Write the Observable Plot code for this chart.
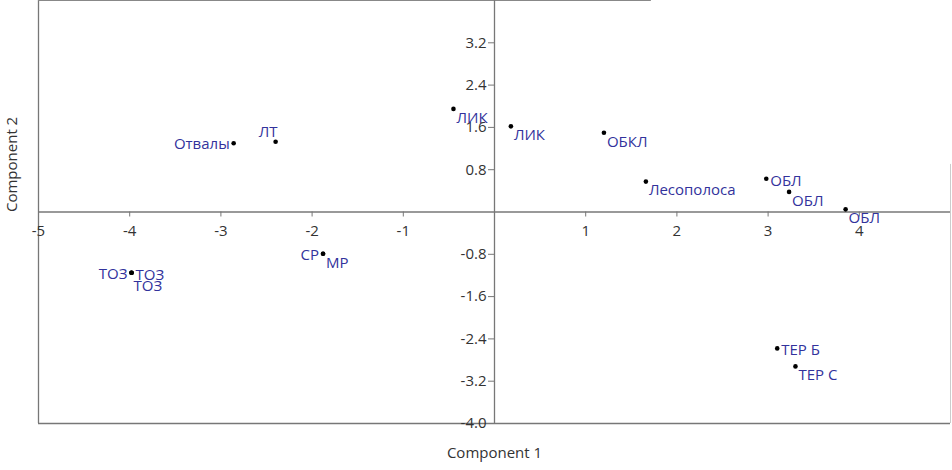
<!DOCTYPE html>
<html>
<head>
<meta charset="utf-8">
<script src="https://cdn.jsdelivr.net/npm/d3@7"></script>
<script src="https://cdn.jsdelivr.net/npm/@observablehq/plot@0.6"></script>
<style>
  html, body { margin: 0; padding: 0; background: #fff; }
  svg { display: block; }
</style>
</head>
<body>
<div id="chart"></div>
<script>
// ---- data ----
const names = ["Отвалы","ЛТ","ЛИК","ЛИК","ОБКЛ","Лесополоса","ОБЛ","ОБЛ","ОБЛ","ТОЗ","ТОЗ","ТОЗ","СР","МР","ТЕР Б","ТЕР С"];
const pc1   = [-2.86, -2.40, -0.45, 0.18, 1.20, 1.66, 2.98, 3.23, 3.85, -3.98, -3.98, -3.98, -1.88, -1.88, 3.10, 3.30];
const pc2   = [ 1.30,  1.33,  1.95, 1.62, 1.50, 0.575, 0.63, 0.38, 0.05, -1.15, -1.15, -1.15, -0.79, -0.79, -2.58, -2.92];
// label placement relative to the point
const placement = ["L","AL","BR","BR","BR","BR","R","BR","BR","L","R","BB","L","BR","R","BR"];
const xTicks = [-5, -4, -3, -2, -1, 1, 2, 3, 4];
const yTicks = [3.2, 2.4, 1.6, 0.8, -0.8, -1.6, -2.4, -3.2, -4.0];
const xTitle = "Component 1";
const yTitle = "Component 2";

const pts = names.map((n, i) => ({name: n, x: pc1[i], y: pc2[i], p: placement[i]}));
const place = {
  L:  {textAnchor: "end",   dx: -4, dy: 1},
  R:  {textAnchor: "start", dx: 4,  dy: 2},
  BR: {textAnchor: "start", dx: 3,  dy: 9},
  BB: {textAnchor: "start", dx: 2,  dy: 13},
  AL: {textAnchor: "end",   dx: 2,  dy: -9}
};
const labelColor = "#32329c";
const font = "'Open Sans', 'Noto Sans', sans-serif";

const labelMarks = Object.entries(place).map(([k, o]) =>
  Plot.text(pts.filter(d => d.p === k), {
    x: "x", y: "y", text: "name", fill: labelColor, fontSize: 15, ...o
  })
);

const chart = Plot.plot({
  width: 952,
  height: 470,
  marginLeft: 38,
  marginRight: 2,
  marginTop: 0,
  marginBottom: 47,
  style: {fontFamily: font, background: "#fff"},
  x: {domain: [-5, 5], axis: null},
  y: {domain: [-4, 4], axis: null},
  marks: [
    // frame
    Plot.ruleX([-5], {stroke: "#777", strokeWidth: 1.3}),
    Plot.ruleY([-4], {stroke: "#777", strokeWidth: 1.3}),
    Plot.ruleY([4], {x1: -5, x2: 1.72, stroke: "#888", strokeWidth: 1.2}),
    Plot.ruleX([5], {y1: -4, y2: 0.9, stroke: "#ccc", strokeWidth: 1}),
    // zero axes
    Plot.ruleX([0], {stroke: "#777", strokeWidth: 1.3}),
    Plot.ruleY([0], {stroke: "#777", strokeWidth: 1.3}),
    // x ticks
    Plot.ruleX(xTicks, {x: d => d, y1: 0, y2: 0, insetBottom: -5, stroke: "#777"}),
    Plot.text(xTicks, {x: d => d, y: 0, text: d => String(d), dy: 19, fontSize: 15, fill: "#333"}),
    // y ticks
    Plot.ruleY(yTicks, {y: d => d, x1: 0, x2: 0, insetLeft: -6, stroke: "#777"}),
    Plot.text(yTicks, {x: 0, y: d => d, text: d => d.toFixed(1), textAnchor: "end", dx: -8, fontSize: 15, fill: "#333"}),
    // points
    Plot.dot(pts, {x: "x", y: "y", r: 2.3, fill: "#000", stroke: null}),
    ...labelMarks,
    // axis titles
    Plot.text([xTitle], {frameAnchor: "bottom", dy: 34, fontSize: 15, fill: "#333"}),
    Plot.text([yTitle], {frameAnchor: "left", dx: -26, rotate: -90, fontSize: 15, fill: "#333"})
  ]
});
document.getElementById("chart").append(chart);
</script>
</body>
</html>
